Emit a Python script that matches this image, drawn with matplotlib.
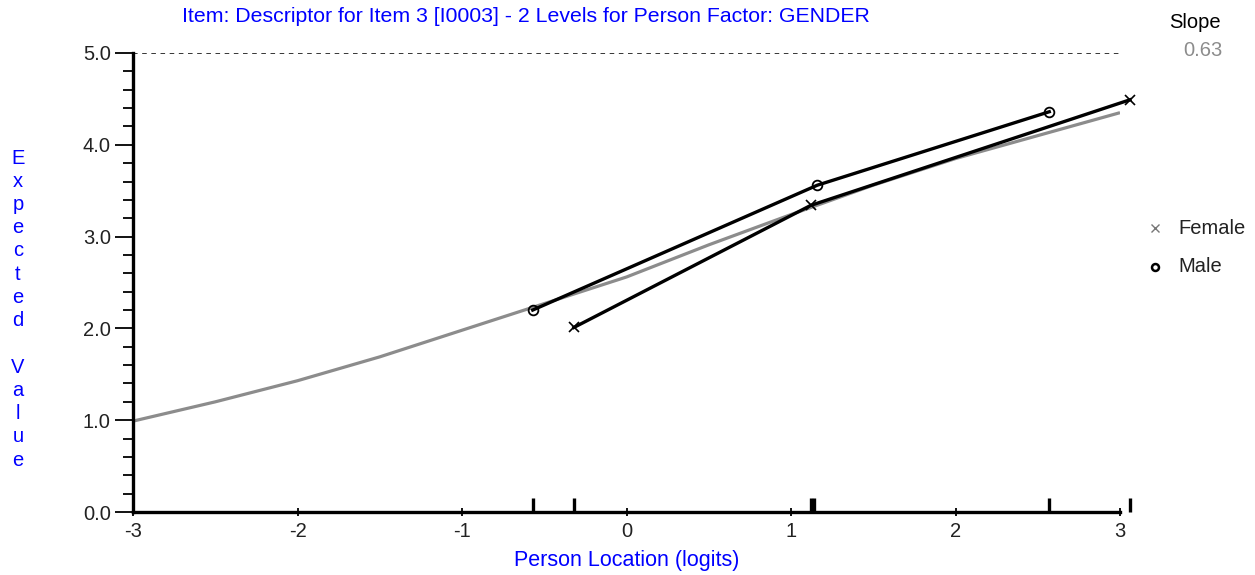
import matplotlib
matplotlib.use("Agg")
import matplotlib.pyplot as plt
from matplotlib.lines import Line2D
import numpy as np

plt.rcParams['font.family'] = ['Liberation Sans', 'DejaVu Sans']

# Expected value curve (ICC)
icc_x = [-3.0, -2.5, -2.0, -1.5, -1.0, -0.5, 0.0, 0.5, 1.0, 1.5, 2.0, 2.5, 3.0]
icc_y = [0.99, 1.20, 1.43, 1.69, 1.98, 2.27, 2.56, 2.91, 3.24, 3.56, 3.85, 4.10, 4.35]

# Class-interval observed means
male_x = [-0.57, 1.16, 2.57]
male_y = [2.20, 3.56, 4.36]
female_x = [-0.32, 1.12, 3.06]
female_y = [2.01, 3.34, 4.49]

x_ticks = [-3, -2, -1, 0, 1, 2, 3]
y_ticks = [0.0, 1.0, 2.0, 3.0, 4.0, 5.0]
interval_ticks = [-0.57, -0.32, 1.12, 1.14, 2.57, 3.06]

title = "Item: Descriptor for Item 3 [I0003] - 2 Levels for Person Factor: GENDER"
slope_label = "Slope"
slope_value = "0.63"

W, H = 1255, 575
fig = plt.figure(figsize=(W / 100, H / 100), dpi=100)
ax = fig.add_axes([133 / W, 1 - 512 / H, (1120 - 133) / W, (512 - 53) / H])
ax.set_xlim(-3, 3)
ax.set_ylim(0, 5)

blue = '#0000ff'
fs = 14.5
ax.plot(icc_x, icc_y, color='#8c8c8c', lw=2.3, zorder=2, solid_capstyle='butt',
        solid_joinstyle='round')
ax.plot(male_x, male_y, color='black', lw=2.4, marker='o', ms=7, mfc='none', mew=1.3, zorder=3, clip_on=False)
ax.plot(female_x, female_y, color='black', lw=2.4, marker='x', ms=7, mew=1.2, zorder=3, clip_on=False)

ax.axhline(5.0, color='black', ls=(0, (3, 3)), lw=1.1, zorder=1)

for s in ['top', 'right']:
    ax.spines[s].set_visible(False)
ax.spines['left'].set_linewidth(2.4)
ax.spines['bottom'].set_linewidth(2.4)

ax.set_yticks(y_ticks)
ax.set_yticklabels([f"{v:.1f}" for v in y_ticks], fontsize=fs, color='#222222')
ax.set_yticks(np.arange(0, 5.01, 0.2), minor=True)
ax.tick_params(axis='y', which='major', length=13, width=1.3, direction='out', pad=3)
ax.tick_params(axis='y', which='minor', length=7, width=1.3, direction='out')

ax.set_xticks(x_ticks)
ax.set_xticklabels([str(v) for v in x_ticks], fontsize=fs, color='#222222')
ax.tick_params(axis='x', which='major', length=6, width=1.3, direction='inout', pad=4)

# class interval markers on x axis
for xv in interval_ticks:
    ax.plot([xv, xv], [0, 0.15], color='black', lw=2.4, clip_on=False, zorder=4,
            solid_capstyle='butt')

ax.set_xlabel("Person Location (logits)", fontsize=15.5, color=blue, labelpad=7)

fig.text(526 / W, 1 - 17 / H, title, ha='center', va='center', fontsize=15.3, color=blue)
fig.text(1195 / W, 1 - 22 / H, slope_label, ha='center', va='center', fontsize=fs, color='black')
fig.text(1203 / W, 1 - 50 / H, slope_value, ha='center', va='center', fontsize=fs, color='#8c8c8c')

# vertical stacked y label
ylabel = "Expected Value"
y0 = 158
step = (460 - 158) / (len(ylabel) - 1)
for i, ch in enumerate(ylabel):
    if ch != ' ':
        fig.text(18 / W, 1 - (y0 + i * step) / H, ch, ha='center', va='center', fontsize=fs, color=blue)

# legend
fig.lines.append(Line2D([1155 / W], [1 - 228 / H], transform=fig.transFigure,
                        marker='x', ms=6, mew=1.0, color='#777777', ls='none'))
fig.text(1178 / W, 1 - 228 / H, "Female", ha='left', va='center', fontsize=fs, color='#222222')
fig.lines.append(Line2D([1155 / W], [1 - 267 / H], transform=fig.transFigure,
                        marker='o', ms=5, mfc='none', mew=1.8, color='black', ls='none'))
fig.text(1178 / W, 1 - 267 / H, "Male", ha='left', va='center', fontsize=fs, color='#222222')

fig.savefig("out.png", dpi=100)
